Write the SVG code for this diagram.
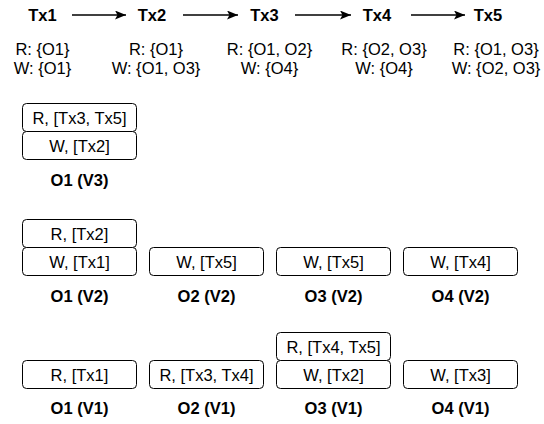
<svg xmlns="http://www.w3.org/2000/svg" width="544" height="424" viewBox="0 0 544 424">
<style>
text{font-family:"Liberation Sans",Arial,Helvetica,sans-serif;font-size:16.5px;fill:#000;text-anchor:middle}
.b{font-weight:bold}
.box{fill:#fff;stroke:#000;stroke-width:1}
.arr{stroke:#000;stroke-width:1.3;fill:none}
</style>
<defs>
<marker id="ah" markerWidth="12" markerHeight="10" refX="11" refY="4.5" orient="auto" markerUnits="userSpaceOnUse">
<path d="M0,0 L11,4.5 L0,9 L2.5,4.5 Z" fill="#000"/>
</marker>
</defs>
<rect width="544" height="424" fill="#fff"/>
<g id="connectors">
<line class="arr" x1="72" y1="15" x2="126" y2="15" marker-end="url(#ah)"/>
<line class="arr" x1="183" y1="15" x2="238" y2="15" marker-end="url(#ah)"/>
<line class="arr" x1="295" y1="15" x2="351" y2="15" marker-end="url(#ah)"/>
<line class="arr" x1="411" y1="15" x2="465" y2="15" marker-end="url(#ah)"/>
</g>
<g id="tx1"><text class="b" x="42.5" y="20.5">Tx1</text><text x="42.5" y="55">R: {O1}</text><text x="42.5" y="73.5">W: {O1}</text></g>
<g id="tx2"><text class="b" x="152" y="20.5">Tx2</text><text x="156" y="55">R: {O1}</text><text x="156" y="73.5">W: {O1, O3}</text></g>
<g id="tx3"><text class="b" x="264.5" y="20.5">Tx3</text><text x="269.5" y="55">R: {O1, O2}</text><text x="269.5" y="73.5">W: {O4}</text></g>
<g id="tx4"><text class="b" x="377" y="20.5">Tx4</text><text x="384" y="55">R: {O2, O3}</text><text x="384" y="73.5">W: {O4}</text></g>
<g id="tx5"><text class="b" x="488" y="20.5">Tx5</text><text x="496" y="55">R: {O1, O3}</text><text x="496" y="73.5">W: {O2, O3}</text></g>

<g id="o1v3">
<rect class="box" x="22.5" y="103.5" width="114" height="28" rx="4"/><text x="79.5" y="124">R, [Tx3, Tx5]</text>
<rect class="box" x="22.5" y="131.5" width="114" height="28" rx="4"/><text x="79.5" y="152">W, [Tx2]</text>
<text class="b" x="79.5" y="186">O1 (V3)</text>
</g>

<g id="o1v2">
<rect class="box" x="22.5" y="219.5" width="114" height="28" rx="4"/><text x="79.5" y="240">R, [Tx2]</text>
<rect class="box" x="22.5" y="247.5" width="114" height="28" rx="4"/><text x="79.5" y="268">W, [Tx1]</text>
<text class="b" x="79.5" y="301.5">O1 (V2)</text>
</g>
<g id="o2v2">
<rect class="box" x="149.5" y="247.5" width="114" height="28" rx="4"/><text x="206.5" y="268">W, [Tx5]</text>
<text class="b" x="206.5" y="301.5">O2 (V2)</text>
</g>
<g id="o3v2">
<rect class="box" x="276.5" y="247.5" width="114" height="28" rx="4"/><text x="333.5" y="268">W, [Tx5]</text>
<text class="b" x="333.5" y="301.5">O3 (V2)</text>
</g>
<g id="o4v2">
<rect class="box" x="403.5" y="247.5" width="114" height="28" rx="4"/><text x="460.5" y="268">W, [Tx4]</text>
<text class="b" x="460.5" y="301.5">O4 (V2)</text>
</g>

<g id="o1v1">
<rect class="box" x="22.5" y="360.5" width="114" height="28" rx="4"/><text x="79.5" y="381">R, [Tx1]</text>
<text class="b" x="79.5" y="414">O1 (V1)</text>
</g>
<g id="o2v1">
<rect class="box" x="149.5" y="360.5" width="114" height="28" rx="4"/><text x="206.5" y="381">R, [Tx3, Tx4]</text>
<text class="b" x="206.5" y="414">O2 (V1)</text>
</g>
<g id="o3v1">
<rect class="box" x="276.5" y="332.5" width="114" height="28" rx="4"/><text x="333.5" y="353">R, [Tx4, Tx5]</text>
<rect class="box" x="276.5" y="360.5" width="114" height="28" rx="4"/><text x="333.5" y="381">W, [Tx2]</text>
<text class="b" x="333.5" y="414">O3 (V1)</text>
</g>
<g id="o4v1">
<rect class="box" x="403.5" y="360.5" width="114" height="28" rx="4"/><text x="460.5" y="381">W, [Tx3]</text>
<text class="b" x="460.5" y="414">O4 (V1)</text>
</g>
</svg>
